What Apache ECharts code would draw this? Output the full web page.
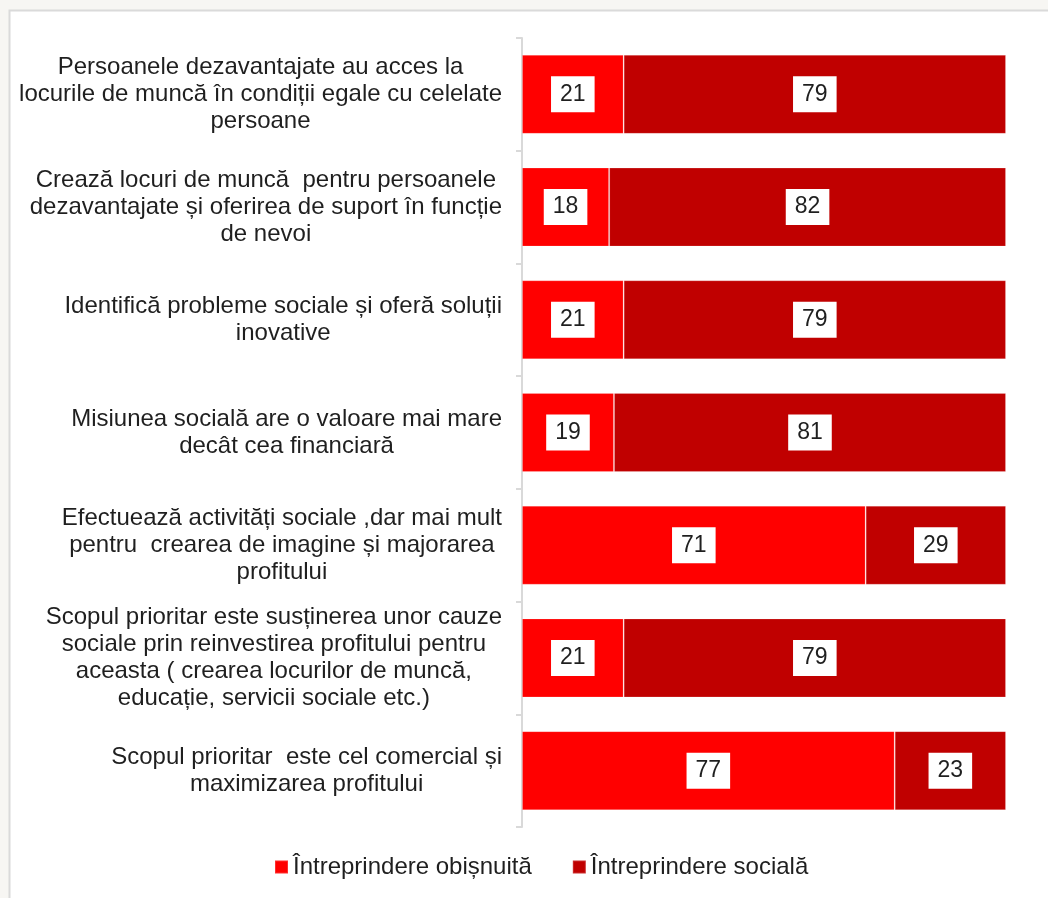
<!DOCTYPE html>
<html>
<head>
<meta charset="utf-8">
<title>Întreprindere obișnuită vs. Întreprindere socială</title>
<script src="https://cdn.jsdelivr.net/npm/echarts@6/dist/echarts.min.js"></script>
<style>
  html, body { margin: 0; padding: 0; background: #f7f6f3; }
  #chart { width: 1048px; height: 898px; }
</style>
</head>
<body>
<div id="chart"></div>
<script>
// Statements, listed top to bottom
const categories = [
  'Persoanele dezavantajate au acces la\nlocurile de muncă în condiții egale cu celelate\npersoane',
  'Crează locuri de muncă  pentru persoanele\ndezavantajate și oferirea de suport în funcție\nde nevoi',
  'Identifică probleme sociale și oferă soluții\ninovative',
  'Misiunea socială are o valoare mai mare\ndecât cea financiară',
  'Efectuează activități sociale ,dar mai mult\npentru  crearea de imagine și majorarea\nprofitului',
  'Scopul prioritar este susținerea unor cauze\nsociale prin reinvestirea profitului pentru\naceasta ( crearea locurilor de muncă,\neducație, servicii sociale etc.)',
  'Scopul prioritar  este cel comercial și\nmaximizarea profitului'
];

const seriesNames = ['Întreprindere obișnuită', 'Întreprindere socială'];

// Share (%) attributing each statement to an ordinary enterprise
const obisnuita = [21, 18, 21, 19, 71, 21, 77];
// Share (%) attributing each statement to a social enterprise
const sociala = [79, 82, 79, 81, 29, 79, 23];

const FONT = "'Liberation Sans', Arial, sans-serif";
const TEXT = '#1f1f1f';

const valueLabel = {
  show: true,
  position: 'inside',
  color: TEXT,
  fontFamily: FONT,
  fontSize: 23,
  lineHeight: 24,
  backgroundColor: '#ffffff',
  padding: [6, 9]
};

const chart = echarts.init(document.getElementById('chart'), null, { renderer: 'canvas' });

chart.setOption({
  animation: false,
  backgroundColor: '#f7f6f3',
  graphic: [{
    type: 'rect',
    z: -10,
    silent: true,
    shape: { x: 9.5, y: 10.5, width: 1060, height: 900 },
    style: { fill: '#ffffff', stroke: '#dadada', lineWidth: 2 }
  }],
  grid: { left: 522, right: 42, top: 38, bottom: 71, containLabel: false },
  xAxis: {
    type: 'value',
    min: 0,
    max: 100,
    show: false
  },
  yAxis: {
    type: 'category',
    inverse: true,
    data: categories,
    axisLine: { show: true, lineStyle: { color: '#d9d9d9', width: 2 } },
    axisTick: { show: true, length: 6, lineStyle: { color: '#d9d9d9', width: 2 } },
    axisLabel: {
      margin: 20,
      fontFamily: FONT,
      fontSize: 24,
      color: TEXT,
      formatter: function (value) {
        return value.split('\n').map(function (line) { return '{c|' + line + '}'; }).join('\n');
      },
      rich: {
        c: { align: 'center', fontFamily: FONT, fontSize: 24, lineHeight: 27, color: TEXT }
      }
    }
  },
  legend: {
    data: seriesNames,
    left: 274,
    top: 855,
    padding: 0,
    icon: 'rect',
    itemWidth: 13,
    itemHeight: 13,
    itemGap: 40,
    textStyle: { fontFamily: FONT, fontSize: 24, color: TEXT }
  },
  series: [
    {
      name: seriesNames[0],
      type: 'bar',
      stack: 'total',
      barWidth: 79,
      data: obisnuita,
      itemStyle: { color: '#ff0000', borderColor: 'rgba(255,255,255,0.18)', borderWidth: 1 },
      label: valueLabel
    },
    {
      name: seriesNames[1],
      type: 'bar',
      stack: 'total',
      barWidth: 79,
      data: sociala,
      itemStyle: { color: '#c00000', borderColor: 'rgba(255,255,255,0.18)', borderWidth: 1 },
      label: valueLabel
    }
  ]
});
</script>
</body>
</html>
